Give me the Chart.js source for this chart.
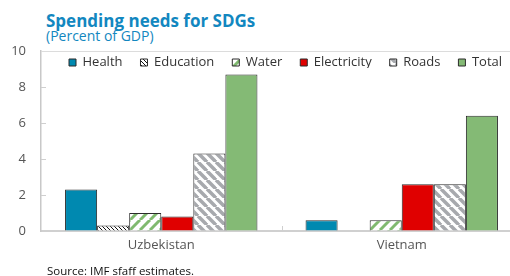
<!DOCTYPE html>
<html>
<head>
<meta charset="utf-8">
<script src="https://cdn.jsdelivr.net/npm/chart.js@4/dist/chart.umd.min.js"></script>
<style>
  body { margin: 0; width: 510px; height: 276px; overflow: hidden; background: #fff; font-family: "Open Sans", sans-serif; position: relative; }
  #wrap { position: absolute; left: 0; top: 0; width: 524px; height: 276px; }
  .txt { position: absolute; white-space: nowrap; line-height: 1; }
  #title { left: 46px; top: 12px; font-size: 17px; font-weight: bold; color: #1287c0; }
  #sub { left: 46px; top: 29px; font-size: 14px; color: #1287c0; }
  #src { left: 47px; top: 265px; font-size: 11.5px; color: #111; }
</style>
</head>
<body>
<div id="title" class="txt">Spending needs for SDGs</div>
<div id="sub" class="txt">(Percent of GDP)</div>
<div id="wrap"><canvas id="myChart"></canvas></div>
<div id="src" class="txt">Source: IMF sfaff estimates.</div>
<script>
const countries = ['Uzbekistan', 'Vietnam'];
const health = [2.3, 0.6];
const education = [0.3, null];
const water = [1.0, 0.6];
const electricity = [0.8, 2.6];
const roads = [4.3, 2.6];
const total = [8.7, 6.4];
const yTicks = [0, 2, 4, 6, 8, 10];

// diagonal hatch fills
function hatch(color, size, width, dir) {
  const c = document.createElement('canvas');
  c.width = size; c.height = size;
  const g = c.getContext('2d');
  g.fillStyle = '#fff';
  g.fillRect(0, 0, size, size);
  g.strokeStyle = color;
  g.lineWidth = width;
  for (let k = -1; k <= 1; k++) {
    g.beginPath();
    if (dir === '\\') { g.moveTo(k * size, 0); g.lineTo(k * size + size, size); }
    else { g.moveTo(k * size, size); g.lineTo(k * size + size, 0); }
    g.stroke();
  }
  return g.createPattern(c, 'repeat');
}

const ctx = document.getElementById('myChart');

// move the legend down inside the plot frame
const legendInPlot = {
  id: 'legendInPlot',
  afterLayout(chart) {
    const l = chart.legend;
    const pad = chart.options.plugins.legend.labels.padding;
    l.top = 63 - pad - 7;
    l.height = 30;
    l.bottom = l.top + l.height;
    l.left = 69 - pad;
    l.right = 524;
    l.width = l.right - l.left;
  }
};

// tick marks drawn on the inside of the axes
const innerTicks = {
  id: 'innerTicks',
  afterDraw(chart) {
    const c = chart.ctx, y = chart.scales.y, x = chart.scales.x;
    c.save();
    c.strokeStyle = '#cfcfcf';
    c.lineWidth = 1;
    yTicks.slice(1, -1).forEach(v => {
      const py = Math.round(y.getPixelForValue(v)) + 0.5;
      c.beginPath(); c.moveTo(x.left, py); c.lineTo(x.left + 5, py); c.stroke();
    });
    const px = Math.round((x.getPixelForValue(0) + x.getPixelForValue(1)) / 2) + 0.5;
    c.beginPath(); c.moveTo(px, y.bottom); c.lineTo(px, y.bottom - 5); c.stroke();
    c.restore();
  }
};

const bw = 1, bc = '#2b2b2b';
new Chart(ctx, {
  type: 'bar',
  data: {
    labels: countries,
    datasets: [
      { label: 'Health', data: health, backgroundColor: '#0089b0', borderColor: bc, borderWidth: bw },
      { label: 'Education', data: education, backgroundColor: hatch('#111', 4, 1, '\\'), borderColor: bc, borderWidth: bw },
      { label: 'Water', data: water, backgroundColor: hatch('#80ba6f', 10, 3, '/'), borderColor: bc, borderWidth: bw },
      { label: 'Electricity', data: electricity, backgroundColor: '#e00000', borderColor: bc, borderWidth: bw },
      { label: 'Roads', data: roads, backgroundColor: hatch('#a7a9ad', 9, 3.5, '\\'), borderColor: bc, borderWidth: bw },
      { label: 'Total', data: total, backgroundColor: '#84ba75', borderColor: bc, borderWidth: bw }
    ]
  },
  options: {
    responsive: true,
    maintainAspectRatio: false,
    animation: false,
    layout: { padding: { top: 41, right: 2, left: 0, bottom: 0 } },
    datasets: { bar: { barPercentage: 1, categoryPercentage: 0.8 } },
    plugins: {
      legend: {
        position: 'top',
        align: 'start',
        maxHeight: 10,
        labels: {
          boxWidth: 7, boxHeight: 7, padding: 18,
          color: '#333', font: { family: 'Open Sans', size: 13 }
        }
      },
      tooltip: { enabled: false }
    },
    scales: {
      x: {
        grid: { display: false, drawTicks: false },
        border: { color: '#d0d0d0', width: 2 },
        ticks: { color: '#555', padding: 6, font: { family: 'Open Sans', size: 13 } },
        afterFit(s) { s.height = 45; }
      },
      y: {
        min: 0, max: 10,
        afterBuildTicks(s) { s.ticks = yTicks.map(v => ({ value: v })); },
        grid: { drawTicks: false, color: c => c.tick && c.tick.value === 10 ? '#dcdcdc' : 'transparent' },
        border: { color: '#c8c8c8', width: 1.5 },
        ticks: { color: '#555', padding: 15, font: { family: 'Open Sans', size: 13 } },
        afterFit(s) { s.width = 41; }
      }
    }
  },
  plugins: [legendInPlot, innerTicks]
});
</script>
</body>
</html>
